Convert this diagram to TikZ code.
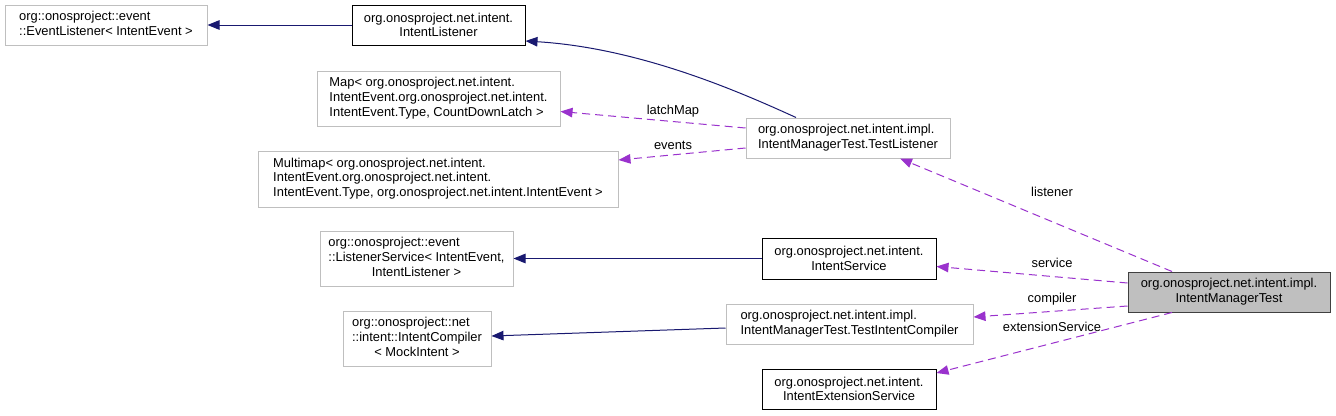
\documentclass[tikz,border=0pt]{standalone}
\usepackage{fontspec}
\setmainfont{Liberation Sans}
\usetikzlibrary{arrows.meta,calc}
\definecolor{navy}{HTML}{191970}
\definecolor{orch}{HTML}{9A32CD}
\definecolor{gbord}{HTML}{BFBFBF}
\begin{document}
\begin{tikzpicture}[x=1pt,y=-1pt,font=\fontsize{12.9}{14.7}\selectfont,
  cls/.style={draw=gbord, fill=white, line width=1pt, inner sep=0pt, align=center},
  clsb/.style={cls, draw=black},
  inh/.style={draw=navy, line width=1pt, -{Triangle[length=12pt,width=9.5pt,fill=navy]}},
  usage/.style={draw=orch, line width=1pt, dash pattern=on 8pt off 5pt, -{Triangle[length=12pt,width=9.5pt,fill=orch]}},
  lbl/.style={inner sep=0pt, text=black}]
\fill[white] (0,0) rectangle (1336,415);
\useasboundingbox (0,0) rectangle (1336,415);

\node[cls, minimum width=202pt, minimum height=40pt] (ev) at (106,25)
  {\begin{tabular}{@{}l@{}}org::onosproject::event\\::EventListener< IntentEvent >\end{tabular}};
\node[clsb, minimum width=173pt, minimum height=40pt] (il) at (438.5,25)
  {org.onosproject.net.intent.\\IntentListener};
\node[cls, minimum width=243pt, minimum height=55pt] (map) at (438.5,98.5)
  {\begin{tabular}{@{}l@{}}Map< org.onosproject.net.intent.\\IntentEvent.org.onosproject.net.intent.\\IntentEvent.Type, CountDownLatch >\end{tabular}};
\node[cls, minimum width=360pt, minimum height=56pt] (mm) at (438,179)
  {\begin{tabular}{@{}l@{}}Multimap< org.onosproject.net.intent.\\IntentEvent.org.onosproject.net.intent.\\IntentEvent.Type, org.onosproject.net.intent.IntentEvent >\end{tabular}};
\node[cls, minimum width=204pt, minimum height=40pt] (tl) at (848,138)
  {\begin{tabular}{@{}l@{}}org.onosproject.net.intent.impl.\\IntentManagerTest.TestListener\end{tabular}};
\node[cls, minimum width=193pt, minimum height=55pt] (ls) at (416.5,258.5)
  {\begin{tabular}{@{}l@{}}org::onosproject::event\\::ListenerService< IntentEvent,\\\multicolumn{1}{@{}c@{}}{IntentListener >}\end{tabular}};
\node[cls, minimum width=148pt, minimum height=55pt] (ic) at (417,338.5)
  {\begin{tabular}{@{}l@{}}org::onosproject::net\\::intent::IntentCompiler\\\multicolumn{1}{@{}c@{}}{< MockIntent >}\end{tabular}};
\node[clsb, minimum width=174pt, minimum height=41pt] (is) at (849,258.5)
  {org.onosproject.net.intent.\\IntentService};
\node[cls, minimum width=247pt, minimum height=40pt] (tic) at (849.5,324)
  {\begin{tabular}{@{}l@{}}org.onosproject.net.intent.impl.\\IntentManagerTest.TestIntentCompiler\end{tabular}};
\node[clsb, minimum width=174pt, minimum height=40pt] (ies) at (849,389)
  {org.onosproject.net.intent.\\IntentExtensionService};
\node[cls, draw=black!75, fill=gbord, minimum width=202pt, minimum height=40pt] (imt) at (1229,292)
  {org.onosproject.net.intent.impl.\\IntentManagerTest};

% inheritance
\draw[inh] (il.west) -- (ev.east);
\draw[inh] ([xshift=-52pt]tl.north) .. controls (740,92) and (640,48) .. ([yshift=-16pt]il.east);
\draw[inh] (is.west) -- (ls.east);
\draw[inh] ([yshift=-4pt]tic.west) -- ([yshift=2.5pt]ic.east);

% usage
\draw[usage] ([yshift=10pt]tl.west) -- ([yshift=-13pt]map.east);
\draw[usage] ([yshift=-10pt]tl.west) -- ([yshift=19pt]mm.east);
\draw[usage] ([xshift=-57pt]imt.north) -- ([xshift=52pt]tl.south);
\draw[usage] ([yshift=9pt]imt.west) -- ([yshift=-8pt]is.east);
\draw[usage] ([yshift=-14pt]imt.west) -- ([yshift=7pt]tic.east);
\draw[usage] ([xshift=-57pt]imt.south) -- ([yshift=16pt]ies.east);

\node[lbl] (l1) at (673,111) {latchMap};
\node[lbl] (l2) at (673,145) {events};
\node[lbl] (l3) at (1052,192) {listener};
\node[lbl] (l4) at (1052,263) {service};
\node[lbl] (l5) at (1052,299) {compiler};
\node[lbl] (l6) at (1052,327) {extensionService};
\end{tikzpicture}
\end{document}
